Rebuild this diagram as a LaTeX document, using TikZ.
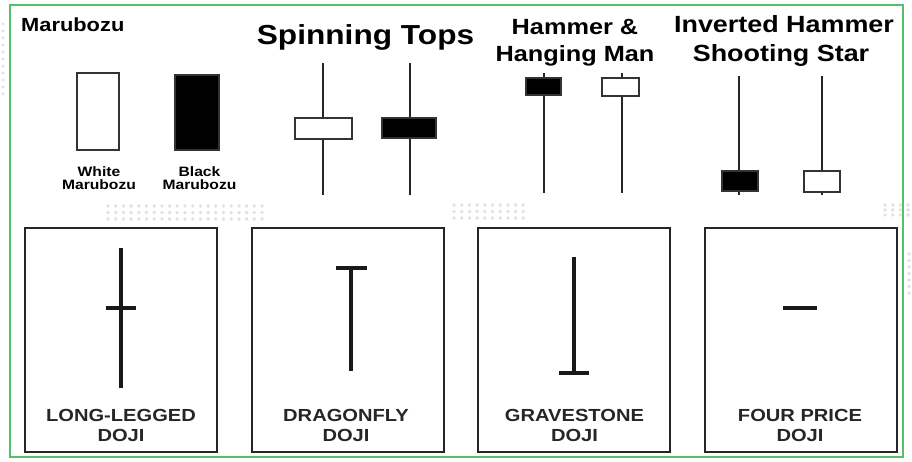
\documentclass[tikz,border=0pt]{standalone}
\usepackage{fontspec}
\newfontfamily\chartfont[FakeStretch=1.15]{Liberation Sans}
\usetikzlibrary{positioning}

\definecolor{framegreen}{RGB}{84,192,104}
\definecolor{dotgray}{RGB}{225,225,225}

\begin{document}
\begin{tikzpicture}[
        x=1pt, y=-1pt,
        body/.style={
            rectangle,
            draw=black!80,
            line width=1.4pt,
            inner sep=0pt,
            outer sep=0pt
        },
        whitebody/.style={body, fill=white},
        blackbody/.style={body, fill=black},
        wick/.style={draw=black!85, line width=1.4pt},
        panel/.style={
            rectangle,
            draw=black!85,
            line width=2pt,
            minimum width=192pt,
            minimum height=223pt
        },
        doji/.style={line width=3.4pt, black!90},
        title/.style={font=\chartfont\bfseries, anchor=base, inner sep=0pt},
        caption/.style={font=\chartfont\bfseries\fontsize{17.5}{19}\selectfont, anchor=base, inner sep=0pt, text=black!85}
    ]
        \useasboundingbox (0,0) rectangle (912,462);

        % faint dot bands of the screenshot
        \foreach \r in {0,1,2} {
            \foreach \c in {0,...,20} \fill[dotgray] (108+\c*7.7, 206+\r*6.5) circle (1.9pt);
            \foreach \c in {0,...,9}  \fill[dotgray] (454+\c*7.7, 205+\r*6.5) circle (1.9pt);
            \foreach \c in {0,...,3}  \fill[dotgray] (885+\c*7.7, 205+\r*5) circle (1.9pt);
        }
        \foreach \r in {0,...,6} \fill[dotgray] (909, 254+\r*6.5) circle (1.9pt);
        \foreach \r in {0,...,10} \fill[dotgray] (3, 24+\r*7) circle (1.6pt);

        \draw[framegreen, line width=1.5pt] (10,5) rectangle (903,457);

        % titles
        \node[title, anchor=base west, font=\chartfont\bfseries\fontsize{19}{22}\selectfont] (maruT) at (21,32) {Marubozu};
        \node[title, font=\chartfont\bfseries\fontsize{27.5}{30}\selectfont] (spinT) at (365.5,45) {Spinning Tops};
        \node[title, font=\chartfont\bfseries\fontsize{22}{26}\selectfont] (hamT1) at (575,35) {Hammer \&};
        \node[title, font=\chartfont\bfseries\fontsize{22}{26}\selectfont] (hamT2) at (575,61.5) {Hanging Man};
        \node[title, font=\chartfont\bfseries\fontsize{23.4}{28}\selectfont] (invT1) at (784,33) {Inverted Hammer};
        \node[title, font=\chartfont\bfseries\fontsize{23.4}{28}\selectfont] (invT2) at (781,62) {Shooting Star};

        % marubozu
        \node[whitebody, minimum width=42pt, minimum height=77pt] (maruW) at (98,111.5) {};
        \node[blackbody, minimum width=44pt, minimum height=75pt] (maruB) at (197,112.5) {};
        \node[title, font=\chartfont\bfseries\fontsize{13.6}{13}\selectfont] (maruWl1) at (99,177) {White};
        \node[title, font=\chartfont\bfseries\fontsize{13.6}{13}\selectfont] (maruWl2) at (99,190) {Marubozu};
        \node[title, font=\chartfont\bfseries\fontsize{13.6}{13}\selectfont] (maruBl1) at (199.5,177) {Black};
        \node[title, font=\chartfont\bfseries\fontsize{13.6}{13}\selectfont] (maruBl2) at (199.5,190) {Marubozu};

        % spinning tops
        \draw[wick] (323,63) -- (323,195);
        \draw[wick] (410,63) -- (410,195);
        \node[whitebody, minimum width=57pt, minimum height=21pt] (spinW) at (323.5,128.5) {};
        \node[blackbody, minimum width=54pt, minimum height=20pt] (spinB) at (409,128) {};

        % hammer and hanging man
        \draw[wick] (544,73) -- (544,193);
        \draw[wick] (622,73) -- (622,193);
        \node[blackbody, minimum width=35pt, minimum height=17pt] (hamB) at (543.5,86.5) {};
        \node[whitebody, minimum width=37pt, minimum height=18pt] (hamW) at (620.5,87) {};

        % inverted hammer and shooting star
        \draw[wick] (739,76) -- (739,195);
        \draw[wick] (822,76) -- (822,195);
        \node[blackbody, minimum width=36pt, minimum height=20pt] (invB) at (740,181) {};
        \node[whitebody, minimum width=36pt, minimum height=21pt] (invW) at (822,181.5) {};

        % doji panels
        \node[panel] (longP)  at (121,340)   {};
        \node[panel] (dragP)  at (348,340)   {};
        \node[panel] (graveP) at (574,340)   {};
        \node[panel] (fourP)  at (800.5,340) {};

        \draw[doji] (121,248) -- (121,388);
        \draw[doji] (106,308) -- (136,308);
        \draw[doji] (351,268) -- (351,371);
        \draw[doji] (336,268) -- (367,268);
        \draw[doji] (574,257) -- (574,373);
        \draw[doji] (559,373) -- (589,373);
        \draw[doji] (783,308) -- (817,308);

        \node[caption] (longL1)  at (121,421)   {LONG-LEGGED};
        \node[caption] (longL2)  at (121,441)   {DOJI};
        \node[caption] (dragL1)  at (346,421)   {DRAGONFLY};
        \node[caption] (dragL2)  at (346,441)   {DOJI};
        \node[caption] (graveL1) at (574.5,421) {GRAVESTONE};
        \node[caption] (graveL2) at (574.5,441) {DOJI};
        \node[caption] (fourL1)  at (800,421)   {FOUR PRICE};
        \node[caption] (fourL2)  at (800,441)   {DOJI};
    \end{tikzpicture}
\end{document}
